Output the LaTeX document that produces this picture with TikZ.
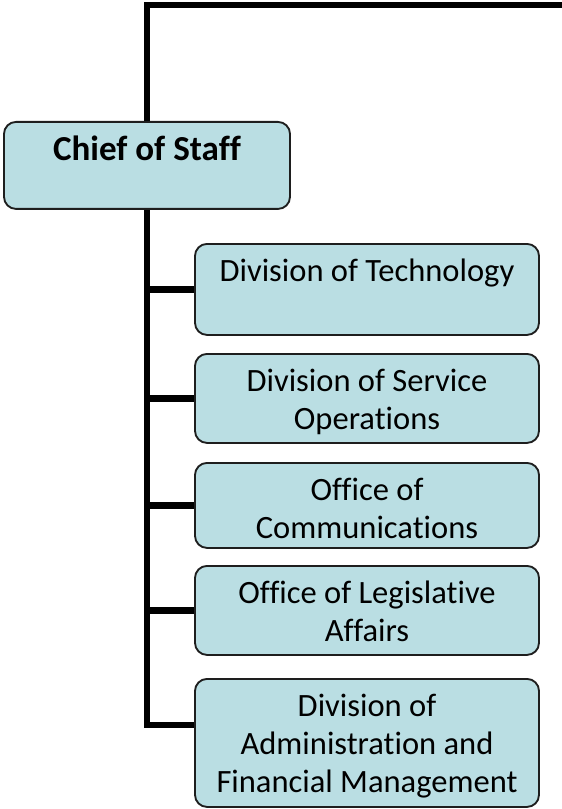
\documentclass[tikz,border=0pt]{standalone}
\usepackage{fontspec}
\setmainfont[Ligatures=NoCommon]{Carlito}
\usetikzlibrary{positioning,calc,backgrounds}
\definecolor{BoxFill}{HTML}{BADEE3}
\definecolor{BoxLine}{HTML}{1E1E1E}

% text set at the top of a box of given height
\newcommand{\toptext}[3]{\parbox[c][#1][t]{#2}{\centering\strut #3}}

\begin{document}
\begin{tikzpicture}[x=0.75pt,y=-0.75pt,
  unit/.style={draw=BoxLine,line width=1.4pt,fill=BoxFill,rounded corners=9pt,
    inner xsep=0pt,inner ysep=8pt,anchor=north,
    font=\fontsize{24.4}{28.5}\selectfont},
  head/.style={unit,font=\fontsize{26.3}{30}\selectfont\bfseries},
  trunk/.style={line width=4.6pt,black}]
  \useasboundingbox (0,0) rectangle (561,809);

  \node[head] (chief) at (147,121) {\toptext{49.25pt}{214.5pt}{Chief of Staff}};

  \node[unit] (tech)  at (367,243) {\toptext{52.25pt}{258pt}{Division of Technology}};
  \node[unit] (serv)  at (367,353) {\toptext{50.75pt}{258pt}{Division of Service\\Operations}};
  \node[unit] (comm)  at (367,462) {\toptext{47.75pt}{258pt}{Office of\\Communications}};
  \node[unit] (legis) at (367,565) {\toptext{50.75pt}{258pt}{Office of Legislative\\Affairs}};
  \node[unit] (admin) at (367,678) {\toptext{80pt}{258pt}{Division of\\Administration and\\Financial Management}};

  \coordinate (topright) at (566,5);
  \coordinate (adminjoin) at ($(admin.north west)+(0,47)$);

  \begin{scope}[on background layer]
    \draw[trunk] (chief.north) |- (topright);
    \draw[trunk] (chief.south) |- (adminjoin);
    \draw[trunk] (chief.south |- tech.west) -- (tech.west);
    \draw[trunk] (chief.south |- serv.west) -- (serv.west);
    \draw[trunk] (chief.south |- comm.west) -- (comm.west);
    \draw[trunk] (chief.south |- legis.west) -- (legis.west);
  \end{scope}
\end{tikzpicture}
\end{document}
